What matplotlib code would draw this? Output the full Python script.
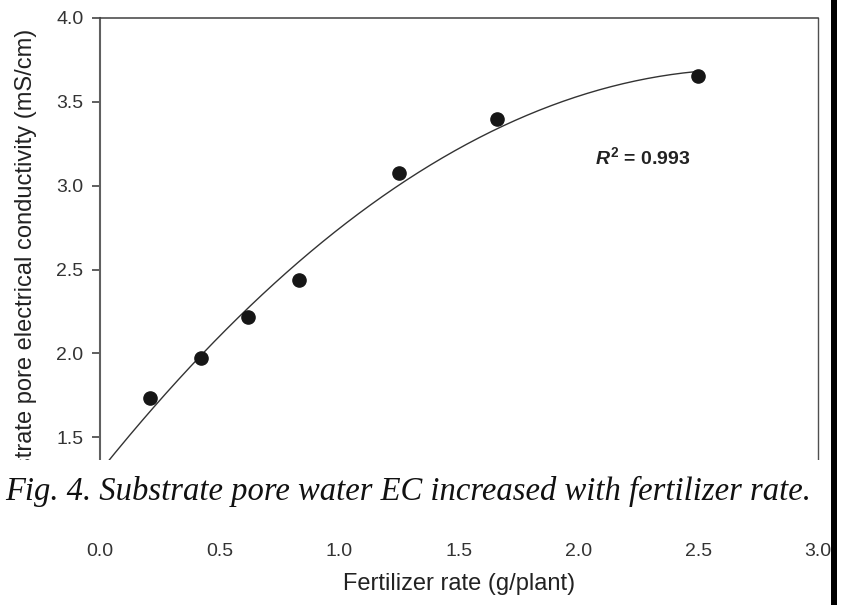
import numpy as np
import matplotlib.pyplot as plt
from matplotlib.patches import Rectangle

# Values
fert_rate = [0.21, 0.42, 0.62, 0.83, 1.25, 1.66, 2.50]   # g/plant
pore_ec = [1.733, 1.971, 2.216, 2.437, 3.075, 3.397, 3.654]  # mS/cm
r2_text = "0.993"
x_ticks = [0.0, 0.5, 1.0, 1.5, 2.0, 2.5, 3.0]
y_ticks = [1.5, 2.0, 2.5, 3.0, 3.5, 4.0]
caption = "Fig. 4. Substrate pore water EC increased with fertilizer rate."

plt.rcParams["font.family"] = ["Liberation Sans", "DejaVu Sans"]
plt.rcParams["mathtext.fontset"] = "custom"
plt.rcParams["mathtext.it"] = "Liberation Sans:italic:bold"
plt.rcParams["mathtext.bf"] = "Liberation Sans:bold"
plt.rcParams["mathtext.rm"] = "Liberation Sans:bold"

W, H = 843, 605
fig = plt.figure(figsize=(W / 100, H / 100), dpi=100)
ax = fig.add_axes([100 / W, 1 - 521 / H, 718 / W, 503 / H])

# quadratic fit through the points (the drawn regression curve)
coefs = np.polyfit(fert_rate, pore_ec, 2)
fit = np.poly1d(coefs)
xs = np.linspace(0, 2.5, 200)
ax.plot(xs, fit(xs), color="#333333", lw=1.0)
ax.plot(fert_rate, pore_ec, "o", color="#161616", ms=9.5, mec="#161616")

ax.text(2.07, 3.13, r"$R^{\mathbf{2}}$ = " + r2_text, fontsize=14,
        fontweight="bold", color="#222222", va="baseline")

ax.set_xlim(0, 3.0)
ax.set_ylim(1.0, 4.0)
ax.set_xticks(x_ticks)
ax.set_xticklabels(["%.1f" % t for t in x_ticks])
ax.set_yticks(y_ticks)
ax.set_yticklabels(["%.1f" % t for t in y_ticks])
ax.tick_params(axis="y", direction="out", length=6, width=1.1, pad=6,
               labelsize=14, colors="#333333")
ax.tick_params(axis="x", length=0, pad=16, labelsize=14, colors="#333333")

ax.spines["bottom"].set_visible(False)
ax.spines["left"].set_color("#606060")
ax.spines["left"].set_linewidth(1.5)
ax.spines["top"].set_color("#404040")
ax.spines["top"].set_linewidth(1.1)
ax.spines["right"].set_color("#505050")
ax.spines["right"].set_linewidth(1.0)

ax.set_ylabel("Substrate pore electrical conductivity (mS/cm)", fontsize=17,
              color="#222222")
ax.yaxis.set_label_coords(-0.088, 0.5)
ax.set_xlabel("Fertilizer rate (g/plant)", fontsize=17, color="#222222",
              labelpad=9)

# caption strip pasted over the lower part of the plot
fig.add_artist(Rectangle((0, 1 - 537 / H), 828 / W, 77 / H,
                         transform=fig.transFigure, facecolor="white",
                         edgecolor="none", zorder=3))
fig.text(5 / W, 1 - 500 / H, caption, family=["Liberation Serif", "DejaVu Serif"],
         style="italic", fontsize=23.5, color="#111111", va="baseline", zorder=4)

# thick black border line at the right edge
fig.add_artist(Rectangle((831 / W, 0), 6 / W, 1, transform=fig.transFigure,
                         facecolor="black", edgecolor="none", zorder=5))

fig.savefig("out.png", dpi=100)
